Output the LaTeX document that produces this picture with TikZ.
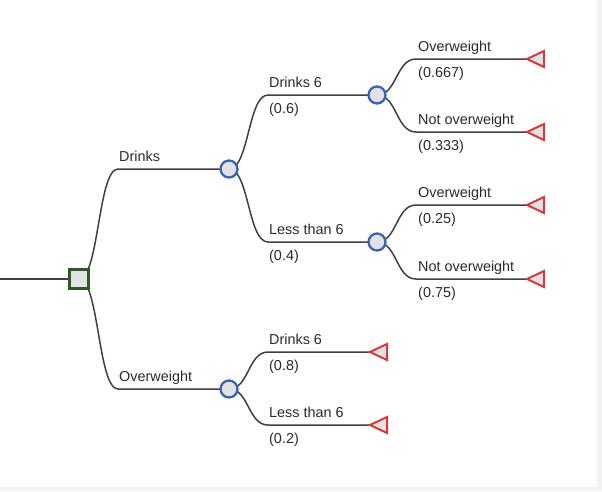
\documentclass[tikz,border=0pt]{standalone}
\usepackage{fontspec}
\setmainfont{Liberation Sans}
\usetikzlibrary{backgrounds,calc}
\definecolor{edgecol}{HTML}{404040}
\definecolor{txtcol}{HTML}{2A2A2A}
\definecolor{decborder}{HTML}{2E5A28}
\definecolor{chborder}{HTML}{3A62B5}
\definecolor{endborder}{HTML}{D63A3A}
\definecolor{nodefill}{HTML}{E2E2E4}
\definecolor{framegray}{HTML}{F2F2F2}
\tikzset{
  decision/.style={rectangle, draw=decborder, fill=nodefill, line width=2.4pt, minimum size=19pt, inner sep=0pt},
  chance/.style={circle, draw=chborder, fill=nodefill, line width=2.3pt, minimum size=17pt, inner sep=0pt},
  endtri/.style={draw=endborder, fill=nodefill, line width=2pt, line join=miter},
  conn/.style={draw=edgecol, line width=1.5pt},
  lbl/.style={text=txtcol, inner sep=0pt, anchor=base west, font=\fontsize{14.4}{16}\selectfont}
}
\newcommand{\termmark}[1]{\draw[endtri] (#1) -- ++(17,-8) -- ++(0,16) -- cycle;}
\begin{document}
\begin{tikzpicture}[x=1pt,y=-1pt]
\useasboundingbox (0,0) rectangle (602,491);
% nodes
\coordinate (start) at (0,279);
\node[decision] (d) at (79,279) {};
\node[chance] (c1) at (229,169) {};
\node[chance] (c2) at (377,95) {};
\node[chance] (c3) at (377,242) {};
\node[chance] (c4) at (229,389) {};
% branch points
\coordinate (b1) at (118,169);
\coordinate (b2) at (118,389);
\coordinate (b3) at (268,95);
\coordinate (b4) at (268,242);
\coordinate (b5) at (416,59);
\coordinate (b6) at (416,132);
\coordinate (b7) at (416,205);
\coordinate (b8) at (416,279);
\coordinate (b9) at (268,352);
\coordinate (b10) at (268,425);
% end tips
\coordinate (e1) at (527,59);
\coordinate (e2) at (527,132);
\coordinate (e3) at (527,205);
\coordinate (e4) at (527,279);
\coordinate (e5) at (370,352);
\coordinate (e6) at (370,425);
\begin{pgfonlayer}{background}
\fill[white] (0,0) rectangle (602,491);
\fill[framegray] (597,0) rectangle (602,491);
\fill[framegray] (0,487) rectangle (602,491);
\draw[conn] (start) -- (d.center);
\draw[conn] (d.center) .. controls +(20,0) and +(-20,0) .. (b1) -- (c1.center);
\draw[conn] (d.center) .. controls +(20,0) and +(-20,0) .. (b2) -- (c4.center);
\draw[conn] (c1.center) .. controls +(20,0) and +(-20,0) .. (b3) -- (c2.center);
\draw[conn] (c1.center) .. controls +(20,0) and +(-20,0) .. (b4) -- (c3.center);
\draw[conn] (c2.center) .. controls +(20,0) and +(-20,0) .. (b5) -- (e1);
\draw[conn] (c2.center) .. controls +(20,0) and +(-20,0) .. (b6) -- (e2);
\draw[conn] (c3.center) .. controls +(20,0) and +(-20,0) .. (b7) -- (e3);
\draw[conn] (c3.center) .. controls +(20,0) and +(-20,0) .. (b8) -- (e4);
\draw[conn] (c4.center) .. controls +(20,0) and +(-20,0) .. (b9) -- (e5);
\draw[conn] (c4.center) .. controls +(20,0) and +(-20,0) .. (b10) -- (e6);
\end{pgfonlayer}
% end markers
\termmark{e1}\termmark{e2}\termmark{e3}\termmark{e4}\termmark{e5}\termmark{e6}
% labels
\node[lbl] (t1) at ($(b1)+(1,-8)$) {Drinks};
\node[lbl] (t2) at ($(b2)+(1,-8)$) {Overweight};
\node[lbl] (t3) at ($(b3)+(1,-8)$) {Drinks 6};
\node[lbl] (p3) at ($(b3)+(1,18)$) {(0.6)};
\node[lbl] (t4) at ($(b4)+(1,-8)$) {Less than 6};
\node[lbl] (p4) at ($(b4)+(1,18)$) {(0.4)};
\node[lbl] (t5) at ($(b5)+(2,-8)$) {Overweight};
\node[lbl] (p5) at ($(b5)+(2,18)$) {(0.667)};
\node[lbl] (t6) at ($(b6)+(2,-8)$) {Not overweight};
\node[lbl] (p6) at ($(b6)+(2,18)$) {(0.333)};
\node[lbl] (t7) at ($(b7)+(2,-8)$) {Overweight};
\node[lbl] (p7) at ($(b7)+(2,18)$) {(0.25)};
\node[lbl] (t8) at ($(b8)+(2,-8)$) {Not overweight};
\node[lbl] (p8) at ($(b8)+(2,18)$) {(0.75)};
\node[lbl] (t9) at ($(b9)+(1,-8)$) {Drinks 6};
\node[lbl] (p9) at ($(b9)+(1,18)$) {(0.8)};
\node[lbl] (t10) at ($(b10)+(1,-8)$) {Less than 6};
\node[lbl] (p10) at ($(b10)+(1,18)$) {(0.2)};
\end{tikzpicture}
\end{document}
